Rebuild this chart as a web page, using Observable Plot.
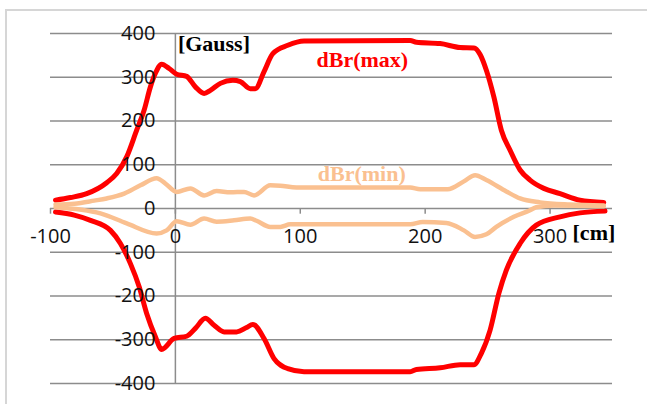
<!DOCTYPE html>
<html><head><meta charset="utf-8">
<script src="https://cdn.jsdelivr.net/npm/d3@7"></script>
<script src="https://cdn.jsdelivr.net/npm/@observablehq/plot@0.6"></script>
<style>
html,body{margin:0;padding:0;background:#fff;overflow:hidden}
#chart{position:relative;width:647px;height:404px}
#border{position:absolute;left:5px;top:9px;width:700px;height:500px;border-left:2px solid #d6d6d6;border-top:2px solid #d6d6d6;pointer-events:none}
#chart svg{position:absolute;left:0;top:0}
</style></head><body>
<div id="chart"><div id="border"></div></div>
<script>
// Tick values
const xTicks = [-100, 0, 100, 200, 300];
const yTicks = [-400, -300, -200, -100, 0, 100, 200, 300, 400];

// dBr(max), upper branch [cm, Gauss]
const maxUpper = [
  [-96,19],[-84,25],[-71,34],[-55,59],[-47,80],[-39,118],[-31,179],[-25,225],[-20,278],[-16,309],
  [-11,330],[-5,320],[1,307],[9,302],[16,278],[23,263],[28,270],[36,286],[46,293],[52,290],
  [60,274],[64,274],[71,313],[78,354],[90,373],[103,383],[188,384],[193,380],[212,377],[228,368],
  [239,367],[244,352],[249,316],[255,255],[261,179],[268,133],[276,88],[284,65],[295,46],[308,34],
  [324,19],[343,14]
];
// dBr(max), lower branch
const maxLower = [
  [-96,-8],[-81,-15],[-68,-27],[-52,-50],[-44,-80],[-36,-126],[-29,-179],[-23,-240],[-16,-293],[-11,-322],
  [-1,-297],[9,-292],[16,-274],[24,-251],[31,-267],[39,-282],[49,-282],[57,-272],[62,-265],[71,-297],
  [79,-343],[90,-366],[103,-373],[188,-373],[193,-368],[212,-364],[228,-357],[239,-357],[245,-331],[252,-278],
  [259,-194],[265,-141],[276,-80],[289,-38],[308,-19],[324,-10],[344,-6]
];
// dBr(min), upper branch
const minUpper = [
  [-96,9],[-81,11],[-65,18],[-55,23],[-41,34],[-28,53],[-15,69],[-8,57],[1,38],[12,46],
  [23,30],[33,40],[44,37],[55,38],[63,30],[76,53],[84,52],[97,48],[188,48],[196,44],
  [218,44],[231,62],[240,76],[249,65],[265,39],[276,23],[292,14],[316,9],[343,7]
];
// dBr(min), lower branch
const minLower = [
  [-96,3],[-60,-11],[-39,-34],[-15,-57],[-7,-50],[1,-29],[12,-37],[23,-23],[33,-30],[47,-27],
  [60,-23],[65,-28],[76,-42],[84,-42],[92,-36],[188,-36],[198,-31],[217,-33],[231,-50],[240,-65],
  [249,-59],[257,-42],[271,-19],[284,-4],[289,3],[303,7],[343,5]
];

const labels = [
  {text: "[Gauss]", x: 2, y: 376, color: "#000000"},
  {text: "dBr(max)", x: 113, y: 339, color: "#ff0000"},
  {text: "dBr(min)", x: 114, y: 80, color: "#fac090"},
  {text: "[cm]", x: 318, y: -57, color: "#000000"}
];

const series = [
  {name: "max+", pts: maxUpper, color: "#ff0000", w: 5},
  {name: "max-", pts: maxLower, color: "#ff0000", w: 5},
  {name: "min+", pts: minUpper, color: "#fac090", w: 4.5},
  {name: "min-", pts: minLower, color: "#fac090", w: 4.5}
];

const grid = "#8c8c8c";
const tickLen = 13;

const plot = Plot.plot({
  width: 647, height: 404,
  marginLeft: 50, marginRight: 35, marginTop: 33, marginBottom: 21,
  x: {domain: [-100, 350], axis: null},
  y: {domain: [-400, 400], axis: null},
  style: {background: "transparent", overflow: "visible"},
  marks: [
    Plot.ruleY(yTicks, {y: d => d, stroke: grid, strokeWidth: 1.5}),
    Plot.ruleX([0], {x: d => d, stroke: grid, strokeWidth: 1.5}),
    Plot.ruleX(xTicks, {x: d => d, y1: 0, y2: -tickLen, stroke: grid, strokeWidth: 1.5}),
    ...series.map(s => Plot.line(s.pts, {x: d => d[0], y: d => d[1], curve: "monotone-x", stroke: s.color, strokeWidth: s.w, strokeLinejoin: "round", strokeLinecap: "round"})),
    Plot.text(yTicks, {x: 0, y: d => d, text: d => String(d), dx: -20, textAnchor: "end", fontSize: 20, fontFamily: "Open Sans", fill: "#111"}),
    Plot.text(xTicks, {x: d => d, y: 0, text: d => String(d), dy: 28, textAnchor: "middle", fontSize: 20, fontFamily: "Open Sans", fill: "#111"}),
    Plot.text(labels, {x: "x", y: "y", text: "text", fill: "color", textAnchor: "start", fontSize: 22, fontWeight: "bold", fontFamily: "Liberation Serif"})
  ]
});
document.getElementById("chart").appendChild(plot);
</script>
</body></html>
